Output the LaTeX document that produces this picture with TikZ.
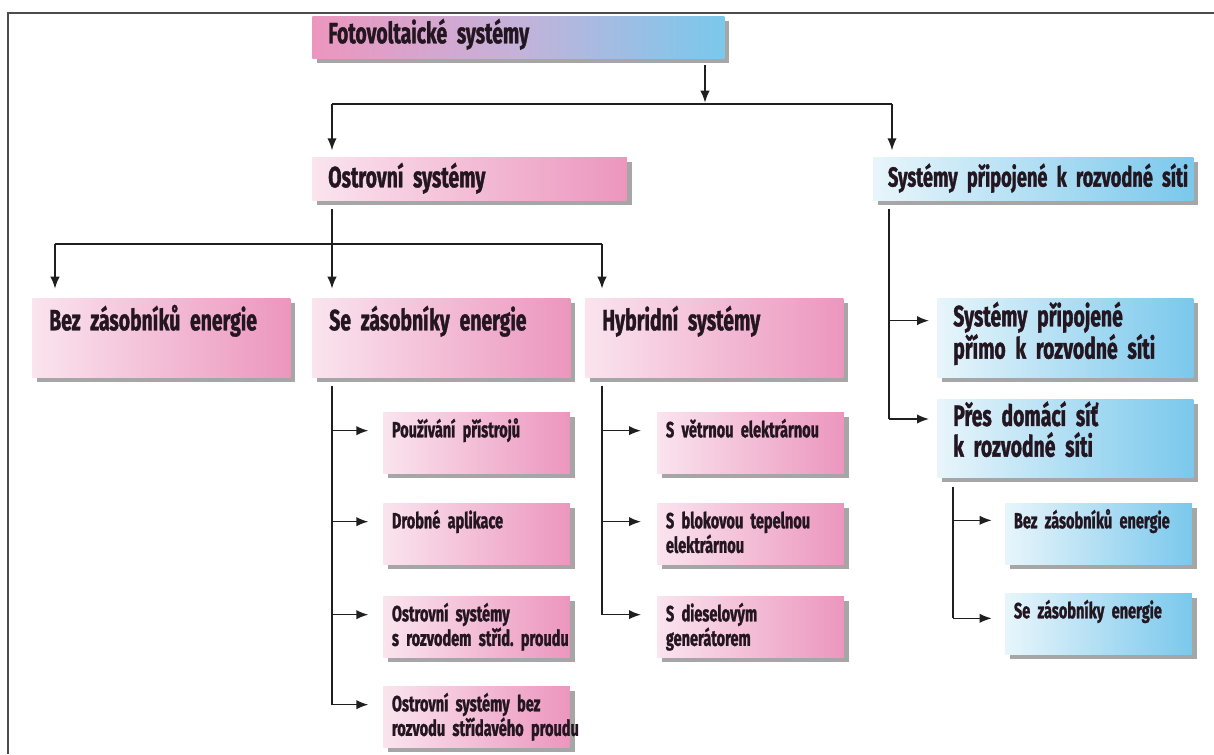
\documentclass[tikz,border=0pt]{standalone}
\usepackage{fontspec}
\usepackage{tikz}
\usetikzlibrary{shadows}
\usetikzlibrary{arrows.meta}
\newfontfamily\boxfont[FakeStretch=0.66,WordSpace=0.5,FakeBold=1.2]{Fira Sans}
\hyphenpenalty=10000
\exhyphenpenalty=10000
\definecolor{pl}{RGB}{250,228,238}
\definecolor{pr}{RGB}{236,150,190}
\definecolor{bl}{RGB}{232,245,251}
\definecolor{br}{RGB}{122,200,236}
\definecolor{mid}{RGB}{196,178,218}
\definecolor{tx}{RGB}{35,22,32}
\tikzstyle{box} = [anchor=north west, inner ysep=0pt, align=left, text=tx, drop shadow={shadow xshift=3.5pt, shadow yshift=-3.5pt, fill=black!35, opacity=1}]
\tikzstyle{big} = [box, inner xsep=12pt, font=\boxfont\bfseries\fontsize{22}{23}\selectfont]
\tikzstyle{row} = [big, inner xsep=12.75pt, text width=168pt, text height=24pt, text depth=35.25pt]
\tikzstyle{small} = [box, inner xsep=6.5pt, text width=127pt, text height=18.75pt, text depth=27pt, font=\boxfont\bfseries\fontsize{16.5}{17}\selectfont]
\tikzstyle{pink} = [left color=pl, right color=pr]
\tikzstyle{blue} = [left color=bl, right color=br]
\tikzstyle{line} = [line width=1.1pt, black!88]
\tikzstyle{arr} = [line, -{Latex[length=9pt,width=7pt]}]

\begin{document}
\begin{tikzpicture}[x=0.75pt,y=-0.75pt]
			\useasboundingbox (0,0) rectangle (1214,754);
			\draw[line width=0.8pt,black!70] (8,754) -- (8,13) -- (1214,13);
			% top levels
			\node[big, text width=285pt, text height=20.25pt, text depth=11.25pt, left color=pr, right color=br, middle color=mid] (foto) at (312,16) {Fotovoltaické systémy};
			\node[big, pink, text width=212pt, text height=22.5pt, text depth=9.75pt] (ostrov) at (312,157) {Ostrovní systémy};
			\node[big, blue, inner xsep=11pt, text width=218pt, text height=22pt, text depth=10.25pt, font=\boxfont\bfseries\fontsize{20.7}{23}\selectfont] (sit) at (873,157) {Systémy~připojené~k~rozvodné~síti};
			\node[row, pink] (bez) at (32,298) {Bez zásobníků energie};
			\node[row, pink] (se) at (312,298) {Se zásobníky energie};
			\node[row, pink] (hyb) at (585,298) {Hybridní systémy};
			\node[big, blue, text width=168pt, text height=21pt, text depth=38.25pt] (primo) at (937,298) {Systémy připojené\\přímo~k~rozvodné~síti};
			\node[big, blue, text width=168pt, text height=20pt, text depth=38.5pt] (pres) at (937,399) {Přes domácí síť\\k rozvodné síti};
			% small boxes
			\node[small, pink] (pouz) at (383,412) {Používání přístrojů};
			\node[small, pink] (drob) at (383,503) {Drobné aplikace};
			\node[small, pink] (ostra) at (383,596) {Ostrovní systémy\\s~rozvodem~stříd.~proudu};
			\node[small, pink] (ostrb) at (383,686) {Ostrovní~systémy~bez\\rozvodu~střídavého~proudu};
			\node[small, pink] (vetr) at (657,412) {S~větrnou~elektrárnou};
			\node[small, pink] (blok) at (657,503) {S~blokovou~tepelnou\\elektrárnou};
			\node[small, pink] (dies) at (657,596) {S dieselovým\\generátorem};
			\node[small, blue] (dbez) at (1005,503) {Bez~zásobníků~energie};
			\node[small, blue] (dse) at (1005,593) {Se zásobníky energie};
			% connectors
			\coordinate (fb) at (705,104);
			\coordinate (f1) at (332,104);
			\coordinate (f2) at (892,104);
			\draw[arr, shorten <=5pt, shorten >=1pt] (foto.south -| fb) -- (fb);
			\draw[line] (f1) -- (f2);
			\draw[arr, shorten >=5pt] (f1) -- (f1 |- ostrov.north);
			\draw[arr, shorten >=5pt] (f2) -- (f2 |- sit.north);
			\coordinate (o1) at (55,244);
			\coordinate (o2) at (332,244);
			\coordinate (o3) at (602,244);
			\draw[line, shorten <=6pt] (ostrov.south -| o2) -- (o2);
			\draw[line] (o1) -- (o3);
			\foreach \a/\b in {o1/bez,o2/se,o3/hyb}
				\draw[arr, shorten >=7pt] (\a) -- (\a |- \b.north);
			\coordinate (sv) at (332,0);
			\coordinate (hv) at (602,0);
			\coordinate (gv) at (889,0);
			\coordinate (dv) at (953,0);
			\foreach \b in {pouz,drob,ostra,ostrb}
				\coordinate (t\b) at ([yshift=-14pt]\b.north west);
			\foreach \b in {vetr,blok,dies}
				\coordinate (t\b) at ([yshift=-14pt]\b.north west);
			\coordinate (tprimo) at ([yshift=-17pt]primo.north west);
			\coordinate (tpres) at ([yshift=-15pt]pres.north west);
			\coordinate (tdbez) at ([yshift=-13pt]dbez.north west);
			\coordinate (tdse) at ([yshift=-19pt]dse.north west);
			\draw[line, shorten <=6pt] (se.south -| sv) -- (tostrb -| sv);
			\draw[line, shorten <=6pt] (hyb.south -| hv) -- (tdies -| hv);
			\draw[line, shorten <=6pt] (sit.south -| gv) -- (tpres -| gv);
			\draw[line, shorten <=7pt] (pres.south -| dv) -- (tdse -| dv);
			\foreach \b in {pouz,drob,ostra,ostrb}
				\draw[arr, shorten >=11pt] (t\b -| sv) -- (t\b);
			\foreach \b in {vetr,blok,dies}
				\draw[arr, shorten >=12pt] (t\b -| hv) -- (t\b);
			\foreach \b in {primo,pres}
				\draw[arr, shorten >=6pt] (t\b -| gv) -- (t\b);
			\foreach \b in {dbez,dse}
				\draw[arr, shorten >=10pt] (t\b -| dv) -- (t\b);
		\end{tikzpicture}
\end{document}
